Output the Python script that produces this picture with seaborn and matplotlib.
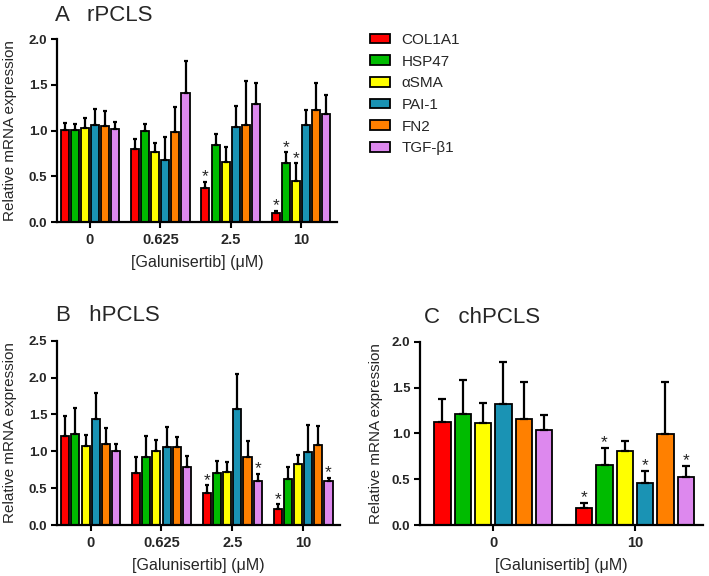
import numpy as np
import pandas as pd
import matplotlib
matplotlib.use("Agg")
import matplotlib.pyplot as plt
import seaborn as sns

# ---------------- data ----------------
genes = ["COL1A1", "HSP47", "\u03b1SMA", "PAI-1", "FN2", "TGF-\u03b21"]
colors = ["#ff0000", "#00bb00", "#ffff00", "#1a93b4", "#ff8000", "#dd88ee"]

doses_4 = ["0", "0.625", "2.5", "10"]
doses_2 = ["0", "10"]

# Panel A: rPCLS (mean, upper SEM)
a_mean = {
    "COL1A1": [1.01, 0.795, 0.375, 0.10],
    "HSP47": [1.005, 1.00, 0.846, 0.645],
    "\u03b1SMA": [1.026, 0.77, 0.66, 0.454],
    "PAI-1": [1.06, 0.68, 1.044, 1.059],
    "FN2": [1.05, 0.99, 1.059, 1.227],
    "TGF-\u03b21": [1.013, 1.414, 1.29, 1.183],
}
a_err = {
    "COL1A1": [0.07, 0.115, 0.068, 0.025],
    "HSP47": [0.065, 0.077, 0.117, 0.121],
    "\u03b1SMA": [0.114, 0.10, 0.164, 0.191],
    "PAI-1": [0.18, 0.247, 0.231, 0.168],
    "FN2": [0.16, 0.266, 0.487, 0.293],
    "TGF-\u03b21": [0.082, 0.346, 0.234, 0.207],
}
a_stars = [(0, 2), (0, 3), (1, 3), (2, 3)]

# Panel B: hPCLS
b_mean = {
    "COL1A1": [1.208, 0.701, 0.434, 0.222],
    "HSP47": [1.231, 0.928, 0.701, 0.62],
    "\u03b1SMA": [1.072, 1.009, 0.724, 0.833],
    "PAI-1": [1.434, 1.063, 1.575, 0.986],
    "FN2": [1.10, 1.054, 0.928, 1.086],
    "TGF-\u03b21": [1.009, 0.792, 0.597, 0.597],
}
b_err = {
    "COL1A1": [0.267, 0.222, 0.104, 0.058],
    "HSP47": [0.362, 0.28, 0.172, 0.167],
    "\u03b1SMA": [0.154, 0.149, 0.131, 0.122],
    "PAI-1": [0.353, 0.263, 0.475, 0.371],
    "FN2": [0.217, 0.141, 0.212, 0.262],
    "TGF-\u03b21": [0.091, 0.145, 0.10, 0.046],
}
b_stars = [(0, 2), (5, 2), (0, 3), (5, 3)]

# Panel C: chPCLS
c_mean = {
    "COL1A1": [1.126, 0.19],
    "HSP47": [1.206, 0.656],
    "\u03b1SMA": [1.115, 0.809],
    "PAI-1": [1.315, 0.463],
    "FN2": [1.158, 0.998],
    "TGF-\u03b21": [1.035, 0.528],
}
c_err = {
    "COL1A1": [0.247, 0.054],
    "HSP47": [0.374, 0.189],
    "\u03b1SMA": [0.215, 0.109],
    "PAI-1": [0.465, 0.131],
    "FN2": [0.402, 0.558],
    "TGF-\u03b21": [0.165, 0.12],
}
c_stars = [(0, 1), (1, 1), (3, 1), (5, 1)]

# ---------------- style ----------------
sns.set_theme(style="ticks")
plt.rcParams["font.family"] = ["Liberation Sans", "DejaVu Sans"]
plt.rcParams["axes.linewidth"] = 1.5

W, H = 709, 576
fig = plt.figure(figsize=(W / 100, H / 100), dpi=100)


def px_axes(left, right, top, bottom):
    return fig.add_axes([left / W, 1 - bottom / H, (right - left) / W, (bottom - top) / H])


axA = px_axes(57, 337, 39.3, 222)
axB = px_axes(57, 340, 340.7, 525)
axC = px_axes(420, 703, 341.7, 525)


def long_df(doses, means, errs):
    rows = []
    for g in genes:
        for d, m, e in zip(doses, means[g], errs[g]):
            rows.append({"dose": d, "gene": g, "value": m, "err": e})
    return pd.DataFrame(rows)


def panel(ax, doses, means, errs, stars, ylim, yticks, xlim, legend=False, capsize=1.6):
    df = long_df(doses, means, errs)
    sns.barplot(
        data=df, x="dose", y="value", hue="gene", order=doses, hue_order=genes,
        palette=colors, width=0.86, gap=0.2, edgecolor="black", linewidth=1.3,
        errorbar=None, ax=ax, legend=legend, saturation=1,
    )
    bar_conts = list(ax.containers)
    for gi, cont in enumerate(bar_conts):
        g = genes[gi]
        for di, bar in enumerate(cont):
            x = bar.get_x() + bar.get_width() / 2
            top = bar.get_height()
            e = errs[g][di]
            ax.errorbar(x, top, yerr=[[0], [e]], fmt="none", ecolor="black",
                        elinewidth=1.6, capsize=capsize, capthick=1.6, zorder=1)
            if (gi, di) in stars:
                ax.annotate("*", (x, top + e), xytext=(0, -2), textcoords="offset points",
                            ha="center", va="bottom", fontsize=12.5, color="#222222")
    ax.set_ylim(*ylim)
    ax.set_yticks(yticks)
    ax.set_yticklabels([f"{t:.1f}" for t in yticks], fontsize=9.5, fontweight="bold")
    ax.set_xlim(*xlim)
    ax.set_xticks(range(len(doses)))
    ax.set_xticklabels(doses, fontsize=10.5, fontweight="bold")
    ax.tick_params(axis="both", length=4, width=1.5, color="black", pad=3)
    ax.tick_params(axis="x", pad=4)
    for s in ["top", "right"]:
        ax.spines[s].set_visible(False)
    for s in ["left", "bottom"]:
        ax.spines[s].set_color("black")
        ax.spines[s].set_linewidth(1.6)
    ax.set_xlabel("[Galunisertib] (\u03bcM)", fontsize=11.5, labelpad=6)
    ax.set_ylabel("Relative mRNA expression", fontsize=11)


panel(axA, doses_4, a_mean, a_err, a_stars, (0, 2.0), [0, 0.5, 1.0, 1.5, 2.0], (-0.469, 3.512), legend=True)
panel(axB, doses_4, b_mean, b_err, b_stars, (0, 2.5), [0, 0.5, 1.0, 1.5, 2.0, 2.5], (-0.475, 3.52))
panel(axC, doses_2, c_mean, c_err, c_stars, (0, 2.0), [0, 0.5, 1.0, 1.5, 2.0], (-0.517, 1.48), capsize=2.6)

axA.yaxis.set_label_coords(-0.143, 0.5)
axB.yaxis.set_label_coords(-0.141, 0.5)
axC.yaxis.set_label_coords(-0.13, 0.5)

sns.move_legend(
    axA, "upper left", bbox_to_anchor=((370 - 57) / 280, (222 - 33) / 182.7),
    frameon=False, title=None, fontsize=11, borderaxespad=0, borderpad=0,
    handlelength=1.3, handleheight=0.6, handletextpad=0.75, labelspacing=0.5,
)
for h in axA.get_legend().legend_handles:
    h.set_edgecolor("black")
    h.set_linewidth(1.3)

fig.text(55 / W, 1 - 21 / H, "A   rPCLS", fontsize=16, va="baseline", ha="left")
fig.text(56 / W, 1 - 321 / H, "B   hPCLS", fontsize=16, va="baseline", ha="left")
fig.text(424 / W, 1 - 323 / H, "C   chPCLS", fontsize=16, va="baseline", ha="left")

fig.savefig("out.png", dpi=100)
